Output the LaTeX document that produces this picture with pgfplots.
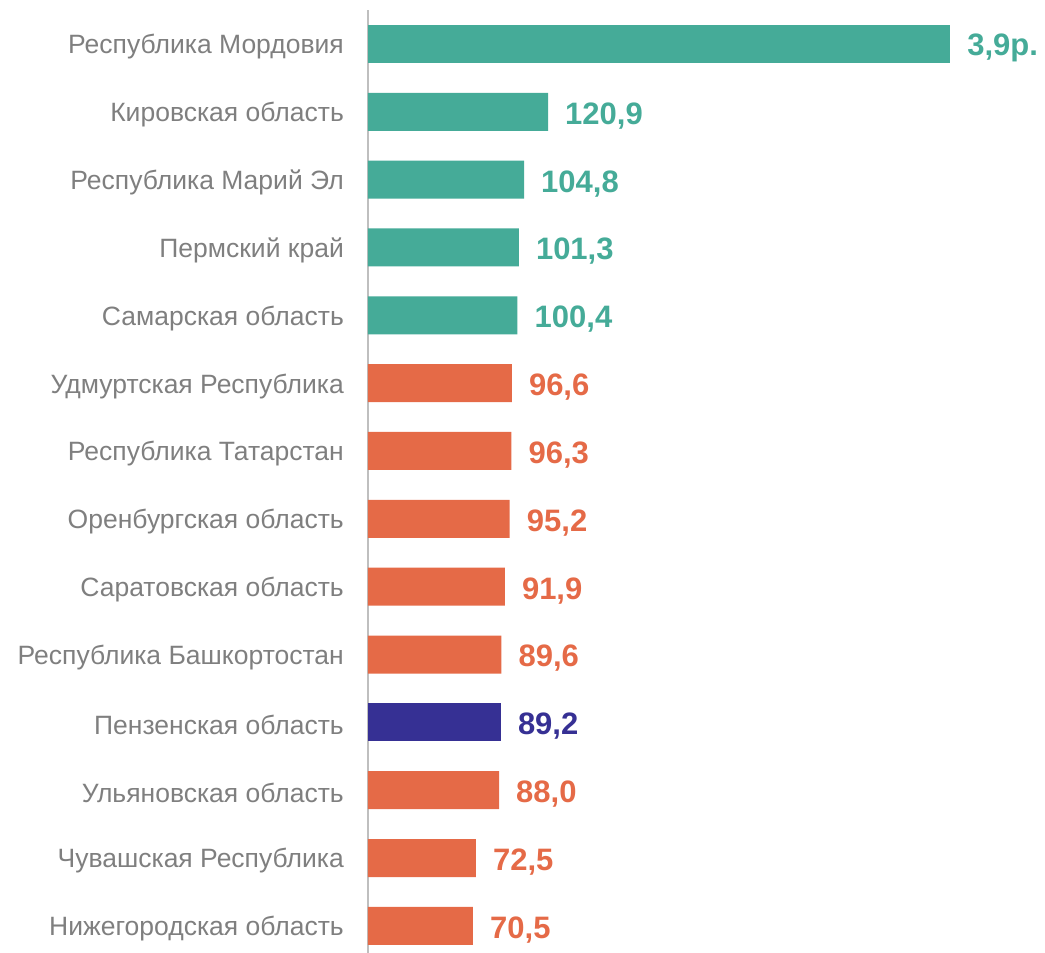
\documentclass[border=0pt]{standalone}
\usepackage{pgfplots}
\pgfplotsset{compat=1.18}
\usepackage{fontspec}
\setmainfont{Liberation Sans}
\definecolor{teal1}{HTML}{45AB98}
\definecolor{orng}{HTML}{E56A47}
\definecolor{navy1}{HTML}{363094}
\definecolor{lbl}{HTML}{7F7F7F}
\begin{document}
\begin{tikzpicture}
\begin{axis}[
 scale only axis, width=677pt, height=943pt,
 xmin=0, xmax=454.7, ymin=-0.5, ymax=13.4, y dir=reverse,
 xbar, bar width=38pt, bar shift=0pt,
 axis x line=none, axis y line*=left,
 y axis line style={draw=black!25, line width=1.2pt},
 ytick={0,...,13},
 yticklabels={Республика Мордовия,Кировская область,Республика Марий Эл,Пермский край,Самарская область,Удмуртская Республика,Республика Татарстан,Оренбургская область,Саратовская область,Республика Башкортостан,Пензенская область,Ульяновская область,Чувашская Республика,Нижегородская область},
 major tick length=0pt,
 yticklabel style={font=\fontsize{26.5}{30}\selectfont, text=lbl, inner sep=0pt, xshift=-24pt, yshift=-3pt},
 clip=false,
 nodes near coords={\pgfmathprintnumber[fixed,fixed zerofill,precision=1,use comma]{\pgfplotspointmeta}},
 nodes near coords style={font=\fontsize{31}{34}\selectfont\bfseries, anchor=west, inner sep=0pt, xshift=17pt, yshift=-4pt},
 /pgf/number format/assume math mode=true,
]
\addplot[fill=teal1, draw=none, nodes near coords={3{,}9р.}, every node near coord/.append style={text=teal1}] coordinates {(391,0)};
\addplot[fill=teal1, draw=none, every node near coord/.append style={text=teal1}] coordinates {(120.9,1) (104.8,2) (101.3,3) (100.4,4)};
\addplot[fill=orng, draw=none, every node near coord/.append style={text=orng}] coordinates {(96.6,5) (96.3,6) (95.2,7) (91.9,8) (89.6,9) (88.0,11) (72.5,12) (70.5,13)};
\addplot[fill=navy1, draw=none, every node near coord/.append style={text=navy1}] coordinates {(89.2,10)};
\end{axis}
\pgfresetboundingbox
\path (-368pt,0pt) rectangle (677pt,953pt);
\end{tikzpicture}
\end{document}
